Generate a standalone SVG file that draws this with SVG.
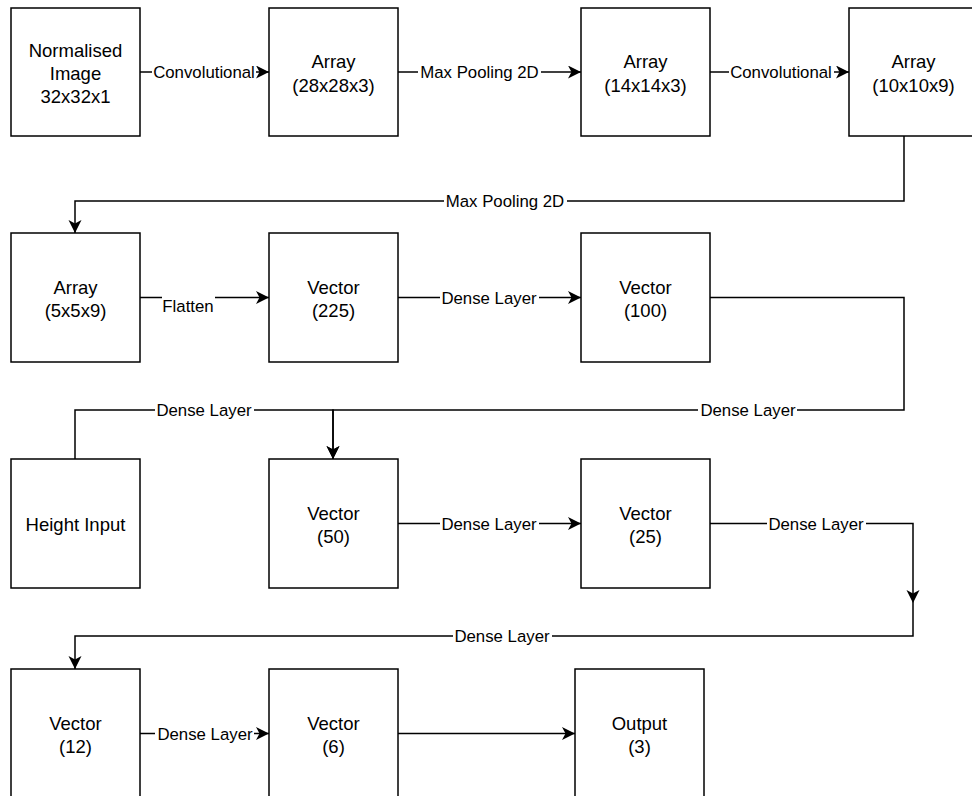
<svg xmlns="http://www.w3.org/2000/svg" width="972" height="796" viewBox="0 0 972 796">
<style>
.box{fill:#fff;stroke:#000;stroke-width:1.5}
.nt{font-family:"Liberation Sans",Arial,sans-serif;font-size:18.5px;fill:#000;text-anchor:middle}
.et{font-family:"Liberation Sans",Arial,sans-serif;font-size:16.8px;fill:#000;text-anchor:middle}
.ln{fill:none;stroke:#000;stroke-width:1.5}
.bg{fill:#fff}
</style>
<defs>
<marker id="arr" markerUnits="userSpaceOnUse" markerWidth="14" markerHeight="14" refX="13" refY="6.5" orient="auto" viewBox="0 0 14 14">
<path d="M0,0 L13,6.5 L0,13 L3.5,6.5 Z" fill="#000"/>
</marker>
</defs>
<rect width="972" height="796" fill="#fff"/>
<g id="connectors">
<path class="ln" d="M140,72 H269" marker-end="url(#arr)"/>
<path class="ln" d="M398,72 H581" marker-end="url(#arr)"/>
<path class="ln" d="M710,72 H849" marker-end="url(#arr)"/>
<path class="ln" d="M904,136 V201 H75 V233" marker-end="url(#arr)"/>
<path class="ln" d="M140,297.5 H269" marker-end="url(#arr)"/>
<path class="ln" d="M398,297.5 H581" marker-end="url(#arr)"/>
<path class="ln" d="M710,297.5 H904 V410 H333 V459" marker-end="url(#arr)"/>
<path class="ln" d="M75,459 V410 H333 V459" marker-end="url(#arr)"/>
<path class="ln" d="M398,523.5 H581" marker-end="url(#arr)"/>
<path class="ln" d="M710,523.5 H913 V603" marker-end="url(#arr)"/>
<path class="ln" d="M913,603 V636 H75 V669" marker-end="url(#arr)"/>
<path class="ln" d="M140,733.5 H269" marker-end="url(#arr)"/>
<path class="ln" d="M398,733.5 H575" marker-end="url(#arr)"/>
<g id="labels">
<rect class="bg" x="152" y="63" width="104" height="18"/><text class="et" x="204" y="78">Convolutional</text>
<rect class="bg" x="418" y="63" width="123" height="18"/><text class="et" x="479.5" y="78">Max Pooling 2D</text>
<rect class="bg" x="729" y="63" width="105" height="18"/><text class="et" x="781" y="78">Convolutional</text>
<rect class="bg" x="444" y="192" width="123" height="18"/><text class="et" x="505" y="207">Max Pooling 2D</text>
<rect class="bg" x="162" y="296" width="53" height="18"/><text class="et" x="188" y="312">Flatten</text>
<rect class="bg" x="440" y="288" width="99" height="18"/><text class="et" x="489" y="303.5">Dense Layer</text>
<rect class="bg" x="698" y="401" width="99" height="18"/><text class="et" x="748" y="416">Dense Layer</text>
<rect class="bg" x="155" y="401" width="99" height="18"/><text class="et" x="204" y="416">Dense Layer</text>
<rect class="bg" x="440" y="514" width="99" height="18"/><text class="et" x="489" y="529.5">Dense Layer</text>
<rect class="bg" x="767" y="514" width="99" height="18"/><text class="et" x="816" y="529.5">Dense Layer</text>
<rect class="bg" x="453" y="627" width="99" height="18"/><text class="et" x="502" y="642">Dense Layer</text>
<rect class="bg" x="155" y="724" width="99" height="18"/><text class="et" x="205" y="739.5">Dense Layer</text>
</g>
</g>
<g id="n1"><rect class="box" x="11" y="8" width="129" height="128"/><text class="nt" x="75.5" y="57">Normalised</text><text class="nt" x="75.5" y="80">Image</text><text class="nt" x="75.5" y="103">32x32x1</text></g>
<g id="n2"><rect class="box" x="269" y="8" width="129" height="128"/><text class="nt" x="333.5" y="68">Array</text><text class="nt" x="333.5" y="91.5">(28x28x3)</text></g>
<g id="n3"><rect class="box" x="581" y="8" width="129" height="128"/><text class="nt" x="645.5" y="68">Array</text><text class="nt" x="645.5" y="91.5">(14x14x3)</text></g>
<g id="n4"><rect class="box" x="849" y="8" width="129" height="128"/><text class="nt" x="913.5" y="68">Array</text><text class="nt" x="913.5" y="91.5">(10x10x9)</text></g>
<g id="n5"><rect class="box" x="11" y="233" width="129" height="129"/><text class="nt" x="75.5" y="294">Array</text><text class="nt" x="75.5" y="317">(5x5x9)</text></g>
<g id="n6"><rect class="box" x="269" y="233" width="129" height="129"/><text class="nt" x="333.5" y="294">Vector</text><text class="nt" x="333.5" y="317">(225)</text></g>
<g id="n7"><rect class="box" x="581" y="233" width="129" height="129"/><text class="nt" x="645.5" y="294">Vector</text><text class="nt" x="645.5" y="317">(100)</text></g>
<g id="n8"><rect class="box" x="11" y="459" width="129" height="129"/><text class="nt" x="75.5" y="531">Height Input</text></g>
<g id="n9"><rect class="box" x="269" y="459" width="129" height="129"/><text class="nt" x="333.5" y="519.5">Vector</text><text class="nt" x="333.5" y="543">(50)</text></g>
<g id="n10"><rect class="box" x="581" y="459" width="129" height="129"/><text class="nt" x="645.5" y="519.5">Vector</text><text class="nt" x="645.5" y="543">(25)</text></g>
<g id="n11"><rect class="box" x="11" y="669" width="129" height="140"/><text class="nt" x="75.5" y="730">Vector</text><text class="nt" x="75.5" y="753">(12)</text></g>
<g id="n12"><rect class="box" x="269" y="669" width="129" height="140"/><text class="nt" x="333.5" y="730">Vector</text><text class="nt" x="333.5" y="753">(6)</text></g>
<g id="n13"><rect class="box" x="575" y="669" width="129" height="140"/><text class="nt" x="639.5" y="730">Output</text><text class="nt" x="639.5" y="753">(3)</text></g>
</svg>
